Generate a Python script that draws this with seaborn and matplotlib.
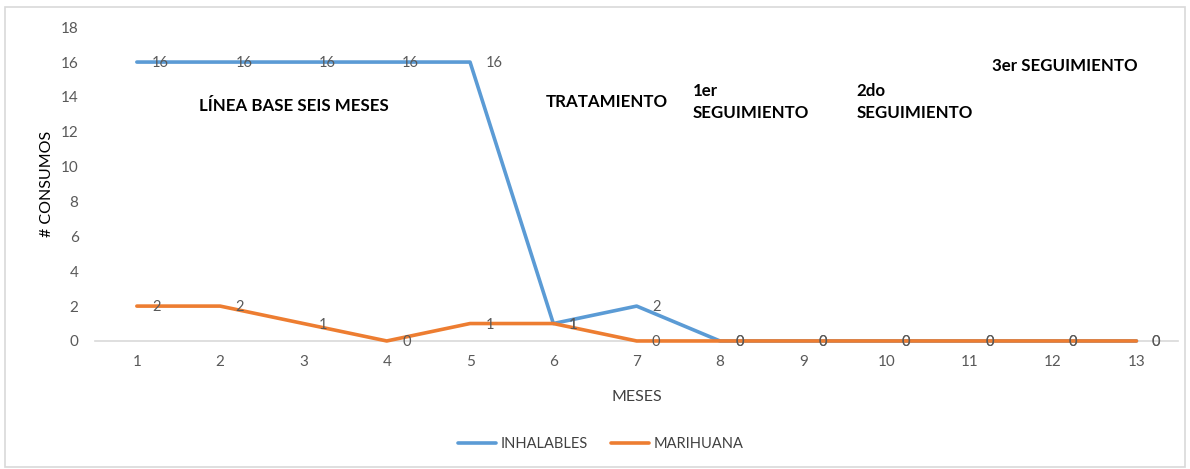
import numpy as np
import pandas as pd
import seaborn as sns
import matplotlib.pyplot as plt
from matplotlib.patches import Rectangle

#----------------------------------------data
meses = [1, 2, 3, 4, 5, 6, 7, 8, 9, 10, 11, 12, 13]
inhalables = [16, 16, 16, 16, 16, 1, 2, 0, 0, 0, 0, 0, 0]
marihuana = [2, 2, 1, 0, 1, 1, 0, 0, 0, 0, 0, 0, 0]
series_names = ["INHALABLES", "MARIHUANA"]
colores = ["#5B9BD5", "#ED7D31"]

fases = ["LÍNEA BASE SEIS MESES", "TRATAMIENTO", "1er\nSEGUIMIENTO", "2do\nSEGUIMIENTO", "3er SEGUIMIENTO"]
fases_x = [1.75, 5.91, 7.67, 9.64, 11.27]
fases_y = [13.5, 13.7, 13.7, 13.7, 15.8]

df = pd.DataFrame({
    "mes": meses * 2,
    "consumos": inhalables + marihuana,
    "sustancia": [series_names[0]] * len(meses) + [series_names[1]] * len(meses),
})

#----------------------------------------plot
sns.set_style("white")
plt.rcParams["font.family"] = ["Lato", "DejaVu Sans"]

fig = plt.figure(figsize=(11.9, 4.69), dpi=100)
ax = fig.add_axes([0.080, 0.273, 0.910, 0.669])

sns.lineplot(data=df, x="mes", y="consumos", hue="sustancia", palette=colores,
             linewidth=2.6, ax=ax, legend=True)

# data labels to the right of each point
for name, vals in zip(series_names, [inhalables, marihuana]):
    for m, v in zip(meses, vals):
        ax.annotate(str(v), (m, v), xytext=(11, -1), textcoords="offset points",
                    ha="left", va="center", fontsize=10.5, color="#595959")

for txt, x, y in zip(fases, fases_x, fases_y):
    ax.text(x, y, txt, fontsize=12.2, fontweight="bold", color="black",
            ha="left", va="center", linespacing=1.45)

ax.set_xlim(0.5, 13.5)
ax.set_ylim(0, 18)
ax.set_xticks(meses)
ax.set_yticks(range(0, 19, 2))
ax.tick_params(axis="both", length=0, labelsize=11, labelcolor="#595959")
ax.tick_params(axis="x", pad=10)
ax.tick_params(axis="y", pad=12)
for s in ["top", "right", "left"]:
    ax.spines[s].set_visible(False)
ax.spines["bottom"].set_color("#D9D9D9")
ax.spines["bottom"].set_linewidth(1.2)
ax.spines["bottom"].set_zorder(1)
for ln in ax.lines:
    ln.set_clip_on(False)
    ln.set_zorder(3)

ax.set_xlabel("MESES", fontsize=11.5, color="#404040", labelpad=15)
ax.set_ylabel("# CONSUMOS", fontsize=11.5, color="black", labelpad=5)

ax.legend(loc="upper center", bbox_to_anchor=(0.467, -0.265), ncol=2, frameon=False,
          fontsize=10.5, handlelength=2.6, columnspacing=1.6, handletextpad=0.3,
          labelcolor="#404040", title=None)

fig.patches.append(Rectangle((0.004, 0.005), 0.992, 0.98, transform=fig.transFigure,
                             fill=False, edgecolor="#D9D9D9", linewidth=1.2))

fig.savefig("out.png", dpi=100)
